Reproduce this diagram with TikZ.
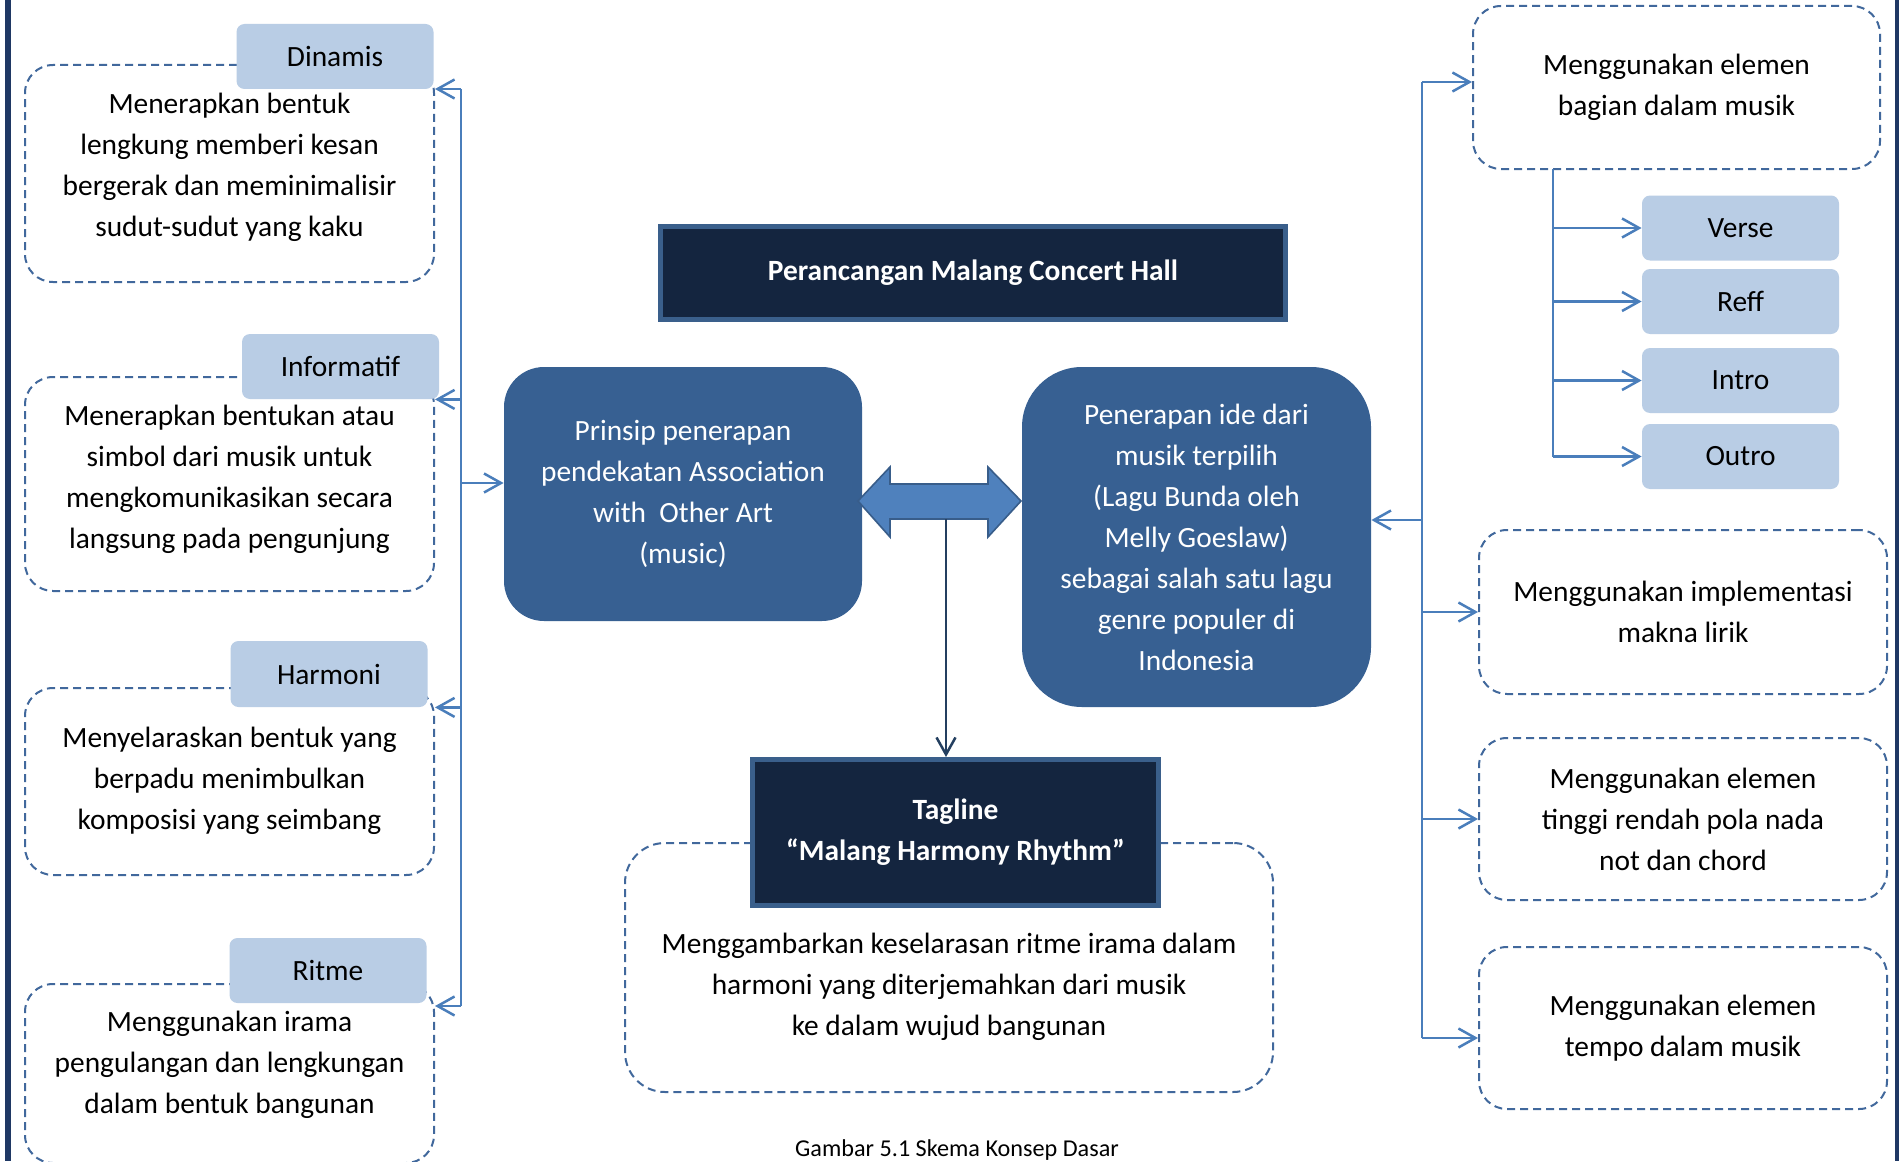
\documentclass[tikz,border=0pt]{standalone}
\usepackage{fontspec}
\setmainfont{Carlito}
\usetikzlibrary{arrows.meta}
\definecolor{lblue}{HTML}{B9CDE5}
\definecolor{dashc}{HTML}{41689C}
\definecolor{cblue}{HTML}{4A7EBB}
\definecolor{mblue}{HTML}{376092}
\definecolor{navyfill}{HTML}{14253F}
\definecolor{bordc}{HTML}{3A5F8B}
\definecolor{arrfill}{HTML}{4F81BD}
\definecolor{arrdraw}{HTML}{385D8A}
\definecolor{cline}{HTML}{243F60}
\definecolor{pagebar}{HTML}{1F3864}
\tikzset{
  txtfont/.style={font=\fontsize{14.7}{20.5}\selectfont},
  dbox/.style={draw=dashc, dash pattern=on 4pt off 2.5pt, line width=1pt, rounded corners=14pt, align=center, txtfont, inner sep=0pt},
  lbl/.style={fill=lblue, rounded corners=4pt, txtfont, inner sep=0pt, minimum width=98.5pt, minimum height=32.5pt},
  mbox/.style={fill=mblue, text=white, align=center, txtfont, inner sep=0pt},
  dkbox/.style={fill=navyfill, draw=bordc, line width=2.5pt, text=white, align=center, font=\fontsize{14.7}{20.5}\selectfont\bfseries, inner sep=0pt},
  plainline/.style={draw=cblue, line width=1.25pt},
  conn/.style={draw=cblue, line width=1.25pt, -{Straight Barb[length=8.5pt,width=9.5pt]}},
  navyconn/.style={draw=cline, line width=1.25pt, -{Straight Barb[length=8.5pt,width=9.5pt]}},
  txt/.style={align=center, txtfont, inner sep=0pt}
}
\begin{document}
\begin{tikzpicture}[x=0.5pt,y=-0.5pt]
\useasboundingbox (0,0) rectangle (1899,1161);
\fill[white] (0,0) rectangle (1899,1161);
% page bars
\fill[pagebar] (5,0) rectangle (11,1161);
\fill[pagebar] (1895,0) rectangle (1899,1161);

% left column
\node[dbox, minimum width=204.5pt, minimum height=108.5pt] (din) at (229.5,173.5) {};
\node[txt] (dint) at (229.5,167.5) {Menerapkan bentuk\\lengkung memberi kesan\\bergerak dan meminimalisir\\sudut-sudut yang kaku};
\node[lbl] (dinl) at (335,56.5) {Dinamis};
\node[dbox, minimum width=204.5pt, minimum height=107pt] (inf) at (229.5,484) {};
\node[txt] (inft) at (229.5,479) {Menerapkan bentukan atau\\simbol dari musik untuk\\mengkomunikasikan secara\\langsung pada pengunjung};
\node[lbl] (infl) at (340.5,366.5) {Informatif};
\node[dbox, minimum width=204.5pt, minimum height=93.5pt] (har) at (229.5,781.5) {};
\node[txt] (hart) at (229.5,780.5) {Menyelaraskan bentuk yang\\berpadu menimbulkan\\komposisi yang seimbang};
\node[lbl, minimum height=33pt] (harl) at (329,674) {Harmoni};
\node[dbox, minimum width=204.5pt, minimum height=89.5pt] (rit) at (229.5,1073.5) {};
\node[txt] (ritt) at (229.5,1064.5) {Menggunakan irama\\pengulangan dan lengkungan\\dalam bentuk bangunan};
\node[lbl] (ritl) at (328,970.5) {Ritme};

\coordinate (lt) at (461,89);
\coordinate (lb) at (461,1006);
\coordinate (lm) at (461,483);
\draw[plainline] (lt) -- (lb);
\draw[conn] (lt) -- (lt -| din.east);
\draw[conn] (lt |- infl.south) -- (inf.east |- infl.south);
\draw[conn] (lt |- harl.south) -- (har.east |- harl.south);
\draw[conn] (lb) -- (lb -| rit.east);

% centre
\node[dkbox, minimum width=312.5pt, minimum height=46.5pt] (title) at (973,273) {Perancangan Malang Concert Hall};
\node[mbox, rounded corners=20pt, minimum width=179pt, minimum height=127pt] (prin) at (683,494) {Prinsip penerapan\\pendekatan Association\\with\ \ Other Art\\(music)};
\node[mbox, rounded corners=30pt, minimum width=174.5pt, minimum height=170pt] (pen) at (1196.5,537) {Penerapan ide dari\\musik terpilih\\(Lagu Bunda oleh\\Melly Goeslaw)\\sebagai salah satu lagu\\genre populer di\\Indonesia};
\draw[conn] (lm) -- (lm -| prin.west);

\filldraw[fill=arrfill, draw=arrdraw, line width=0.8pt] (858,501) -- (890,467) -- (890,484) -- (988,484) -- (988,467) -- (1021,501) -- (988,537) -- (988,519) -- (890,519) -- (890,537) -- cycle;
\coordinate (dab) at (946,519);

\node[dbox, rounded corners=20pt, minimum width=324pt, minimum height=124.5pt] (tagd) at (949,967.5) {};
\node[txt] (tagt) at (949,986.5) {Menggambarkan keselarasan ritme irama dalam\\harmoni yang diterjemahkan dari musik\\ke dalam wujud bangunan};
\node[dkbox, minimum width=203pt, minimum height=73pt] (tag) at (955.5,832.5) {Tagline\\“Malang Harmony Rhythm”};
\draw[navyconn] (dab) -- (dab |- tag.north);

\node[txt, font=\fontsize{12.1}{14}\selectfont] (cap) at (957,1150) {Gambar 5.1 Skema Konsep Dasar};

% right column
\node[dbox, minimum width=203.5pt, minimum height=81.5pt] (rtop) at (1676.5,87.5) {Menggunakan elemen\\bagian dalam musik};
\node[lbl] (verse) at (1740.5,228) {Verse};
\node[lbl] (reff) at (1740.5,301.5) {Reff};
\node[lbl] (intro) at (1740.5,380.5) {Intro};
\node[lbl] (outro) at (1740.5,456.5) {Outro};
\node[dbox, minimum width=204pt, minimum height=82pt] (rb1) at (1683,612) {Menggunakan implementasi\\makna lirik};
\node[dbox, minimum width=204pt, minimum height=81pt] (rb2) at (1683,819) {Menggunakan elemen\\tinggi rendah pola nada\\not dan chord};
\node[dbox, minimum width=204pt, minimum height=81pt] (rb3) at (1683,1028) {Menggunakan elemen\\tempo dalam musik};

\coordinate (rt) at (1422,82);
\coordinate (rbm) at (1422,1038);
\coordinate (rm) at (1422,520);
\draw[plainline] (rt) -- (rbm);
\draw[conn] (rt) -- (rt -| rtop.west);
\draw[conn] (rm) -- (rm -| pen.east);
\draw[conn] (rt |- rb1.west) -- (rb1.west);
\draw[conn] (rt |- rb2.west) -- (rb2.west);
\draw[conn] (rbm) -- (rbm -| rb3.west);

\coordinate (st) at (1553,169);
\draw[plainline] (st) -- (st |- outro.west);
\draw[conn] (st |- verse.west) -- (verse.west);
\draw[conn] (st |- reff.west) -- (reff.west);
\draw[conn] (st |- intro.west) -- (intro.west);
\draw[conn] (st |- outro.west) -- (outro.west);
\end{tikzpicture}
\end{document}
